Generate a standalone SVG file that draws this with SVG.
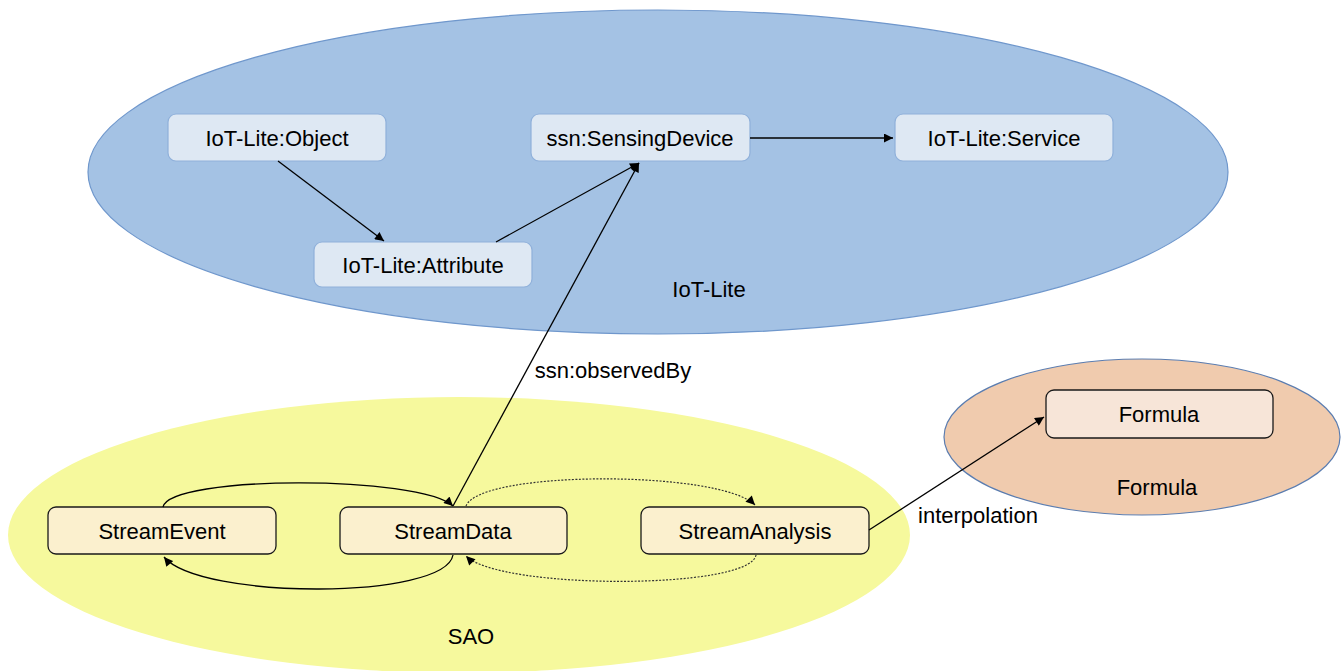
<svg xmlns="http://www.w3.org/2000/svg" width="1341" height="671" viewBox="0 0 1341 671">
<defs>
<marker id="arr" viewBox="0 0 10 10" refX="10" refY="5" markerWidth="10" markerHeight="9" markerUnits="userSpaceOnUse" orient="auto">
<path d="M0,0 L10,5 L0,10 z" fill="#000"/>
</marker>
</defs>
<style>
.lbl{font-family:"Liberation Sans",Arial,sans-serif;font-size:22px;fill:#000;text-anchor:middle;dominant-baseline:central}
.bn{fill:#DEE8F3;stroke:#8FB0DA;stroke-width:1.2}
.yn{fill:#FBF0CE;stroke:#1a1a1a;stroke-width:1.3}
.on{fill:#F7E5D8;stroke:#1a1a1a;stroke-width:1.3}
.c{fill:none;stroke:#000;stroke-width:1.3;marker-end:url(#arr)}
.d{fill:none;stroke:#333;stroke-width:1.2;stroke-dasharray:2,1.5;marker-end:url(#arr)}
</style>
<rect width="1341" height="671" fill="#fff"/>
<g id="iotlite-group">
<ellipse cx="658" cy="172" rx="570" ry="162" fill="#A4C2E4" stroke="#6F97CC" stroke-width="1.2"/>
<text class="lbl" x="709" y="289">IoT-Lite</text>
</g>
<g id="sao-group">
<ellipse cx="459" cy="535" rx="451" ry="138" fill="#F6F99D"/>
<text class="lbl" x="471" y="636">SAO</text>
</g>
<g id="formula-group">
<ellipse cx="1142" cy="437" rx="198" ry="78" fill="#F0CBAE" stroke="#5B7DB0" stroke-width="1.2"/>
<text class="lbl" x="1157" y="487">Formula</text>
</g>
<g id="n-object"><rect class="bn" x="168" y="114" width="218" height="47" rx="8"/><text class="lbl" x="277" y="138">IoT-Lite:Object</text></g>
<g id="n-attribute"><rect class="bn" x="314" y="242" width="218" height="45" rx="8"/><text class="lbl" x="423" y="265">IoT-Lite:Attribute</text></g>
<g id="n-sensing"><rect class="bn" x="531" y="114" width="219" height="47" rx="8"/><text class="lbl" x="640" y="138">ssn:SensingDevice</text></g>
<g id="n-service"><rect class="bn" x="895" y="114" width="218" height="47" rx="8"/><text class="lbl" x="1004" y="138">IoT-Lite:Service</text></g>
<g id="n-streamevent"><rect class="yn" x="48" y="507" width="228" height="47" rx="8"/><text class="lbl" x="162" y="531">StreamEvent</text></g>
<g id="n-streamdata"><rect class="yn" x="340" y="507" width="227" height="47" rx="8"/><text class="lbl" x="453" y="531">StreamData</text></g>
<g id="n-streamanalysis"><rect class="yn" x="641" y="507" width="228" height="47" rx="8"/><text class="lbl" x="755" y="531">StreamAnalysis</text></g>
<g id="n-formula"><rect class="on" x="1046" y="390" width="227" height="48" rx="8"/><text class="lbl" x="1159" y="414">Formula</text></g>
<g id="connectors">
<path class="c" d="M278,161 L384,241"/>
<path class="c" d="M496,242 L639,163"/>
<path class="c" d="M453,506 L639,163"/>
<path class="c" d="M750,138 L893,138"/>
<path class="c" d="M163,507 C170,475 420,475 453,506"/>
<path class="c" d="M453,555 C445,600 200,600 164,557"/>
<path class="d" d="M466,506 C480,470 720,470 755,505"/>
<path class="d" d="M756,555 C750,590 500,590 466,556"/>
<path class="c" d="M869,530 L1044,417"/>
<text class="lbl" x="613" y="370">ssn:observedBy</text>
<text class="lbl" x="978" y="515">interpolation</text>
</g>
</svg>
